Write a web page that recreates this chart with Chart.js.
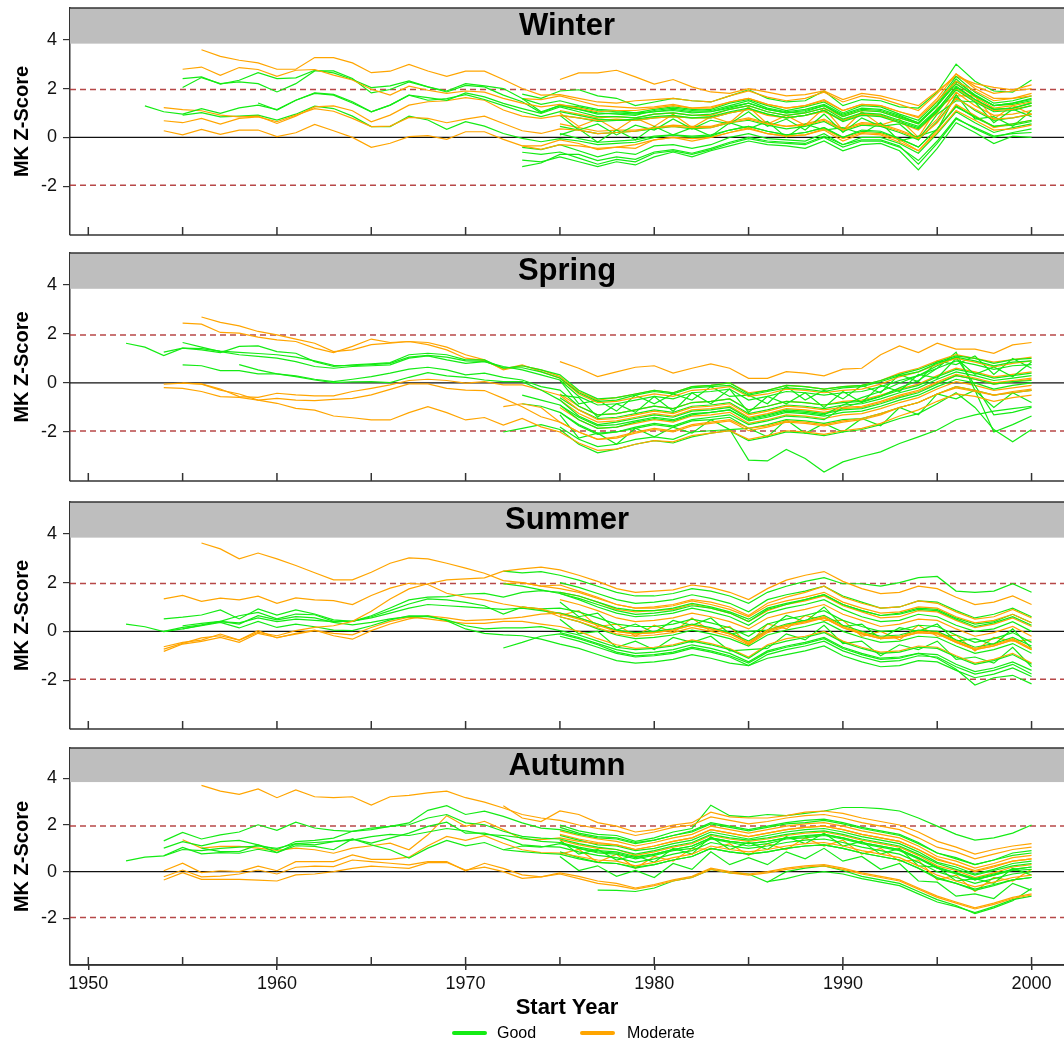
<!DOCTYPE html>
<html>
<head>
<meta charset="utf-8">
<script src="https://cdn.jsdelivr.net/npm/chart.js@4.4.1/dist/chart.umd.min.js"></script>
<style>
body{margin:0;background:#fff;width:1064px;height:1044px;overflow:hidden;position:relative;font-family:"Liberation Sans",Arial,sans-serif}
.panel{position:absolute;left:0}
#legend{position:absolute;left:0;top:1022px;width:1064px;height:22px;font-size:16px;color:#000}
#legend span{position:absolute}
.key{height:4px;width:35px;border-radius:2px;top:9px}
.lab{top:2px}
</style>
</head>
<body>
<div class="panel" id="p0"><canvas id="c0"></canvas></div>
<div class="panel" id="p1"><canvas id="c1"></canvas></div>
<div class="panel" id="p2"><canvas id="c2"></canvas></div>
<div class="panel" id="p3"><canvas id="c3"></canvas></div>
<div id="legend">
 <span class="key" style="left:452px;background:#14eb14"></span><span class="lab" style="left:497px">Good</span>
 <span class="key" style="left:580px;background:#ffa500"></span><span class="lab" style="left:627px">Moderate</span>
</div>
<script>
// axis setup
const xTicks = [1950, 1960, 1970, 1980, 1990, 2000];
const xMinor = [1955, 1965, 1975, 1985, 1995];
const yTicks = [-2, 0, 2, 4];
const seasons = ['Winter', 'Spring', 'Summer', 'Autumn'];
const sigLevel = 1.96;

// Winter: start year, class (G good / M moderate), MK Z values from start year to 2000
const winterStart = [1956,1955,1955,1955,1953,1959,1954,1954,1955,1954,
  1975,1973,1973,1973,1973,1973,1973,1973,1973,1975,1975,1975,1975,1975,1975,1975,1975,1975];
const winterClass = ['M','M','G','G','G','G','M','M','G','M',
  'M','G','G','G','G','G','G','M','M','G','G','M','G','M','G','G','M','G'];
const winterZ = [
 [3.59,3.32,3.16,3.05,2.79,2.79,3.27,3.27,3.05,2.65,2.71,2.99,2.72,2.50,2.71,2.71,2.37,2.0,1.73,
  1.75,1.6,1.45,1.4,1.5,1.55,1.6,1.5,1.45,1.7,1.9,1.65,1.5,1.6,1.85,1.45,1.7,1.6,1.35,1.1,1.8,2.6,2.1,1.8,1.9,2.0],
 [2.79,2.88,2.54,2.86,2.78,2.50,2.75,2.78,2.55,2.35,1.97,1.73,2.10,1.93,1.80,1.90,1.85,1.60,1.40,1.25,
  1.35,1.2,1.05,1.1,1.1,1.2,1.3,1.2,1.2,1.45,1.6,1.35,1.2,1.3,1.5,1.1,1.35,1.3,1.05,0.8,1.5,2.3,1.9,1.5,1.6,1.7],
 [2.41,2.48,2.18,2.34,2.65,2.41,2.44,2.75,2.64,2.37,2.04,2.11,2.31,2.07,1.90,2.20,2.11,2.0,1.59,1.05,1.3,
  1.15,1.0,0.95,0.9,1.1,1.2,1.1,1.15,1.4,1.55,1.3,1.1,1.25,1.45,1.0,1.3,1.25,0.95,0.7,1.45,2.5,1.85,1.4,1.5,1.7],
 [2.04,2.45,2.2,2.27,2.2,1.86,2.2,2.72,2.72,2.41,1.82,1.96,2.27,2.07,1.86,2.13,2.07,1.73,1.46,1.01,1.32,
  1.25,1.1,1.05,1.0,1.15,1.25,1.15,1.1,1.3,1.5,1.2,1.05,1.15,1.35,0.95,1.2,1.15,0.9,0.6,1.3,2.2,1.7,1.3,1.4,1.55],
 [1.29,1.05,0.95,1.18,0.98,1.21,1.32,1.14,1.52,1.82,1.76,1.46,1.05,1.32,1.73,1.63,1.52,1.82,1.66,1.39,1.18,0.98,1.25,
  1.05,0.85,0.85,0.8,0.95,1.0,0.9,0.95,1.15,1.3,1.05,0.9,1.0,1.2,0.75,1.0,0.95,0.7,0.45,1.15,2.05,1.55,1.15,1.2,1.4],
 [1.41,1.12,1.52,1.80,1.73,1.41,1.05,1.32,1.73,1.52,1.59,1.75,1.55,1.30,1.05,0.85,1.05,
  0.9,0.75,0.7,0.75,0.85,0.9,0.8,0.85,1.05,1.2,0.95,0.8,0.9,1.1,0.65,0.9,0.85,0.6,0.35,1.05,1.95,1.45,1.05,1.1,1.3],
 [1.22,1.14,1.09,0.91,0.84,0.87,0.57,0.87,1.25,1.29,1.09,0.64,0.91,1.32,1.46,1.50,1.63,1.52,1.12,0.87,0.78,0.9,
  0.8,0.7,0.75,0.7,0.8,0.85,0.8,0.8,1.0,1.15,0.9,0.8,0.9,1.05,0.7,0.95,0.9,0.6,0.3,1.0,2.0,1.5,1.1,1.15,1.3],
 [0.68,0.60,0.78,0.54,0.78,0.84,0.64,0.91,1.18,1.07,0.78,0.44,0.46,0.82,0.78,0.60,0.75,0.87,0.57,0.27,0.16,0.35,
  0.3,0.15,0.2,0.25,0.4,0.45,0.4,0.4,0.6,0.75,0.55,0.45,0.5,0.7,0.3,0.55,0.5,0.25,-0.05,0.6,1.6,1.15,0.75,0.8,0.95],
 [0.91,1.01,0.84,0.87,0.91,0.71,0.95,1.28,1.18,0.87,0.44,0.44,0.87,0.71,0.33,0.64,0.46,0.16,-0.04,-0.18,-0.05,
  -0.15,-0.3,-0.25,-0.2,0.0,0.1,0.0,0.05,0.3,0.45,0.25,0.1,0.2,0.4,0.0,0.3,0.25,-0.05,-0.4,0.35,1.25,0.85,0.45,0.55,0.7],
 [0.27,0.10,0.33,0.12,0.30,0.30,0.03,0.19,0.53,0.27,0.0,-0.41,-0.24,0.03,0.07,-0.08,0.23,0.23,-0.08,-0.35,-0.49,-0.3,
  -0.35,-0.45,-0.4,-0.3,-0.1,0.0,-0.05,0.0,0.2,0.35,0.15,0.05,0.1,0.3,-0.15,0.15,0.1,-0.2,-0.55,0.2,1.1,0.7,0.3,0.35,0.5],
 [2.37,2.64,2.64,2.75,2.48,2.18,2.37,2.07,1.86,1.8,2.0,1.85,1.7,1.75,1.9,1.55,1.8,1.7,1.5,1.3,1.9,2.5,2.2,2.05,1.95,2.15],
 [1.77,1.6,1.9,1.95,1.7,1.6,1.3,1.45,1.6,1.5,1.45,1.7,1.95,1.6,1.45,1.5,1.9,1.3,1.55,1.5,1.25,1.2,1.85,3.0,2.3,1.9,1.85,2.35],
 [1.59,1.35,1.5,1.3,1.15,1.1,1.0,1.05,1.15,1.05,1.05,1.2,1.4,1.15,1.0,1.05,1.3,0.85,1.1,1.05,0.8,0.55,1.3,2.3,1.75,1.3,1.4,1.6],
 [-0.41,-0.5,-0.3,-0.55,-0.8,-0.6,-0.7,-0.35,-0.3,-0.45,-0.3,0.0,0.15,-0.05,-0.1,-0.15,0.15,-0.3,0.0,0.0,-0.25,-0.65,0.15,1.05,0.6,0.2,0.4,0.55],
 [-0.61,-0.7,-0.6,-0.85,-1.1,-0.9,-1.0,-0.65,-0.55,-0.7,-0.5,-0.25,-0.05,-0.2,-0.25,-0.3,0.0,-0.4,-0.15,-0.15,-0.4,-0.95,-0.15,0.8,0.35,0.0,0.2,0.35],
 [-0.93,-1.0,-0.8,-1.0,-1.2,-1.0,-1.13,-0.8,-0.6,-0.8,-0.55,-0.35,-0.15,-0.3,-0.35,-0.45,-0.15,-0.55,-0.3,-0.25,-0.55,-1.33,-0.45,0.6,0.2,-0.25,0.05,0.0],
 [-1.2,-1.05,-0.7,-0.7,-0.95,-0.8,-0.9,-0.6,-0.5,-0.65,-0.45,-0.2,0.0,-0.15,-0.2,-0.25,0.05,-0.3,-0.1,-0.1,-0.35,-1.1,-0.25,0.75,0.4,0.05,0.15,0.2],
 [-0.35,-0.35,-0.1,-0.25,-0.5,-0.4,-0.45,-0.1,0.0,-0.15,0.0,0.2,0.4,0.15,0.05,0.1,0.35,-0.05,0.2,0.15,-0.1,-0.55,0.3,1.35,0.9,0.4,0.55,0.7],
 [1.59,1.55,1.7,1.5,1.3,1.25,1.2,1.25,1.35,1.2,1.25,1.45,1.6,1.35,1.2,1.3,1.55,1.1,1.35,1.3,1.05,0.85,1.6,2.6,2.0,1.6,1.6,1.8],
 [0.9,0.3,0.55,0.1,0.5,0.3,0.75,0.35,0.7,0.55,1.05,0.45,0.75,0.3,0.95,0.2,0.8,0.45,0.55,-0.1,0.95,1.5,1.45,0.6,1.15,0.85],
 [0.9,0.8,0.65,0.7,0.7,0.8,0.85,0.8,0.8,1.0,1.15,0.95,0.8,0.9,1.1,0.7,0.95,0.9,0.65,0.4,1.1,2.1,1.55,1.15,1.2,1.4],
 [1.1,0.95,0.8,0.85,0.8,0.95,1.0,0.9,0.9,1.15,1.3,1.05,0.9,1.0,1.2,0.85,1.1,1.05,0.8,0.55,1.3,2.2,1.65,1.2,1.3,1.45],
 [0.1,0.35,-0.2,0.3,-0.1,0.45,0.1,0.4,0.05,0.6,0.35,0.65,0.0,0.55,0.3,0.4,0.15,0.6,-0.15,0.05,0.3,1.75,0.75,0.85,0.45,1.1],
 [0.55,0.4,0.25,0.3,0.3,0.4,0.5,0.45,0.45,0.65,0.8,0.6,0.45,0.55,0.75,0.35,0.6,0.55,0.3,0.0,0.75,1.85,1.3,0.9,0.95,1.1],
 [1.3,1.15,0.95,1.0,0.95,1.05,1.1,1.0,1.05,1.25,1.4,1.15,1.0,1.1,1.3,0.9,1.15,1.1,0.85,0.6,1.35,2.4,1.7,1.3,1.35,1.5],
 [0.15,-0.05,-0.2,-0.15,-0.1,0.05,0.1,0.05,0.1,0.3,0.45,0.25,0.1,0.2,0.4,0.0,0.25,0.2,-0.05,-0.4,0.35,1.3,0.8,0.45,0.5,0.65],
 [1.0,0.45,0.75,0.3,0.8,0.45,0.95,0.4,0.85,0.6,1.25,0.55,0.9,0.5,1.2,0.3,1.05,0.5,0.75,0.0,1.2,1.7,1.7,0.75,1.3,0.95],
 [0.45,0.3,0.15,0.2,0.25,0.35,0.45,0.35,0.4,0.6,0.7,0.5,0.35,0.45,0.65,0.25,0.5,0.45,0.2,-0.1,0.65,1.65,1.1,0.7,0.8,0.95]
];

// Spring
const springStart = [1952,1954,1955,1955,1958,1956,1955,1954,1954,1955,
  1975,1975,1972,1972,1973,1973,1975,1975,1975,1975,1975,1975,1975,1975,1975];
const springClass = ['G','G','G','G','G','M','M','M','M','M',
  'M','G','M','G','G','G','G','M','G','M','G','G','M','G','G'];
const springZ = [
 [1.62,1.46,1.12,1.42,1.40,1.30,1.25,1.20,1.15,1.05,0.90,0.72,0.70,0.75,0.80,1.05,1.12,1.05,0.90,0.88,0.62,0.62,0.45,0.2,
  -0.4,-0.75,-0.7,-0.5,-0.35,-0.45,-0.2,-0.15,-0.1,-0.5,-0.35,-0.2,-0.25,-0.35,-0.2,-0.15,0.05,0.3,0.45,0.8,1.05,0.9,0.7,0.85,0.9],
 [1.26,1.42,1.35,1.24,1.49,1.51,1.28,1.21,0.87,0.67,0.74,0.78,0.83,1.15,1.21,1.15,0.94,0.94,0.60,0.70,0.53,0.33,
  -0.3,-0.65,-0.6,-0.45,-0.3,-0.4,-0.15,-0.1,0.0,-0.45,-0.3,-0.1,-0.15,-0.25,-0.15,-0.1,0.1,0.35,0.55,0.85,1.1,1.0,0.8,0.95,1.0],
 [1.65,1.46,1.28,1.15,1.08,1.01,0.87,0.67,0.60,0.67,0.70,0.74,1.01,1.10,0.94,0.80,0.87,0.67,0.53,0.33,0.12,
  -0.55,-0.9,-0.85,-0.7,-0.55,-0.65,-0.4,-0.35,-0.25,-0.7,-0.55,-0.35,-0.4,-0.5,-0.4,-0.35,-0.15,0.1,0.3,0.6,0.9,0.75,0.55,0.7,0.75],
 [0.74,0.70,0.50,0.50,0.37,0.37,0.29,0.15,0.05,0.15,0.26,0.40,0.56,0.64,0.53,0.33,0.40,0.23,0.12,-0.15,-0.29,
  -0.95,-1.3,-1.25,-1.1,-0.95,-1.05,-0.8,-0.75,-0.65,-1.1,-0.95,-0.75,-0.8,-0.9,-0.8,-0.75,-0.55,-0.3,-0.1,0.25,0.55,0.4,0.2,0.3,0.4],
 [0.75,0.53,0.37,0.26,0.12,0.01,0.04,0.05,0.01,0.23,0.42,0.29,0.23,0.12,0.05,0.05,-0.29,-0.70,
  -1.35,-1.7,-1.6,-1.45,-1.3,-1.4,-1.15,-1.1,-1.0,-1.45,-1.3,-1.1,-1.15,-1.25,-1.1,-1.05,-0.85,-0.6,-0.4,-0.05,0.3,0.15,-0.05,0.05,0.1],
 [2.69,2.47,2.33,2.10,1.96,1.79,1.62,1.28,1.35,1.56,1.62,1.69,1.65,1.46,1.15,0.94,0.53,0.70,0.53,0.26,
  -0.35,-0.7,-0.6,-0.45,-0.3,-0.4,-0.15,-0.1,0.0,-0.4,-0.3,-0.1,-0.15,-0.25,-0.15,-0.1,0.1,0.4,0.6,0.9,1.15,1.0,0.85,0.95,1.05],
 [2.44,2.40,2.06,2.03,1.87,1.76,1.69,1.42,1.24,1.49,1.79,1.65,1.69,1.56,1.35,1.01,0.91,0.56,0.74,0.46,0.19,
  -0.45,-0.8,-0.75,-0.6,-0.45,-0.55,-0.3,-0.25,-0.15,-0.55,-0.45,-0.25,-0.3,-0.4,-0.3,-0.25,-0.05,0.25,0.45,0.75,1.0,0.85,0.65,0.8,0.9],
 [-0.05,-0.01,-0.04,-0.25,-0.56,-0.59,-0.42,-0.49,-0.53,-0.53,-0.35,-0.22,-0.08,0.10,0.15,0.10,-0.01,0.05,-0.08,-0.08,-0.29,-0.5,
  -1.1,-1.5,-1.45,-1.3,-1.15,-1.25,-1.0,-0.95,-0.85,-1.3,-1.15,-0.95,-1.0,-1.1,-1.0,-0.95,-0.75,-0.5,-0.3,0.05,0.35,0.2,0.0,0.1,0.2],
 [-0.19,-0.22,-0.35,-0.56,-0.59,-0.70,-0.63,-0.70,-0.72,-0.67,-0.63,-0.49,-0.26,-0.04,-0.04,-0.22,-0.29,-0.31,-0.63,-0.97,-1.38,-1.6,
  -2.0,-2.3,-2.25,-2.05,-1.9,-2.0,-1.75,-1.65,-1.55,-1.95,-1.8,-1.6,-1.65,-1.75,-1.6,-1.5,-1.3,-1.0,-0.8,-0.45,-0.15,-0.3,-0.5,-0.4,-0.3],
 [-0.01,-0.05,-0.29,-0.45,-0.70,-0.83,-1.04,-1.11,-1.35,-1.42,-1.51,-1.51,-1.21,-0.97,-1.21,-1.51,-1.41,-1.72,-1.45,-1.79,-2.0,
  -2.45,-2.75,-2.7,-2.5,-2.35,-2.4,-2.15,-2.05,-1.95,-2.3,-2.15,-1.95,-2.0,-2.1,-1.95,-1.85,-1.65,-1.35,-1.1,-0.75,-0.45,-0.55,-0.75,-0.6,-0.5],
 [0.87,0.6,0.26,0.45,0.64,0.70,0.4,0.6,0.78,0.60,0.19,0.19,0.46,0.40,0.29,0.56,0.60,1.15,1.51,1.24,1.62,1.38,1.38,1.21,1.55,1.65],
 [-1.8,-2.3,-2.6,-2.5,-2.3,-2.2,-2.3,-2.0,-1.95,-1.9,-3.15,-3.18,-2.71,-3.08,-3.63,-3.22,-3.0,-2.81,-2.47,-2.2,-1.92,-1.5,-1.3,-1.15,-1.05,-0.95],
 [-0.97,-0.85,-1.0,-1.6,-2.0,-2.3,-2.2,-2.0,-1.85,-1.95,-1.7,-1.6,-1.5,-1.85,-1.75,-1.55,-1.6,-1.7,-1.55,-1.45,-1.25,-1.0,-0.8,-0.45,-0.2,-0.35,-0.5,-0.35,-0.25],
 [-2.0,-1.85,-1.7,-1.9,-2.5,-2.85,-2.7,-2.5,-2.35,-2.45,-2.2,-2.05,-1.95,-2.35,-2.2,-2.0,-2.05,-2.15,-2.0,-1.9,-1.7,-1.45,-1.25,-0.85,-0.4,-1.0,-1.9,-2.4,-1.9],
 [-0.85,-0.95,-1.2,-1.75,-2.1,-2.0,-1.8,-1.65,-1.75,-1.5,-1.4,-1.3,-1.7,-1.55,-1.35,-1.4,-1.5,-1.0,-0.8,-0.55,-0.2,0.1,0.6,1.25,-0.3,-2.0,-1.7,-1.35],
 [-0.5,-0.7,-0.9,-1.5,-1.85,-1.8,-1.6,-1.45,-1.55,-1.3,-1.2,-1.1,-1.5,-1.35,-1.15,-1.2,-1.3,-0.9,-0.6,-0.35,0.0,0.3,0.7,1.05,-0.1,-1.3,-1.2,-1.0],
 [-0.9,-1.4,-1.75,-1.7,-1.55,-1.4,-1.5,-1.25,-1.2,-1.1,-1.55,-1.4,-1.2,-1.25,-1.35,-1.2,-1.15,-0.95,-0.7,-0.5,-0.15,0.15,0.0,-0.25,-0.1,0.0],
 [-0.7,-1.25,-1.6,-1.55,-1.4,-1.25,-1.35,-1.1,-1.05,-0.95,-1.4,-1.25,-1.05,-1.1,-1.2,-1.05,-1.0,-0.8,-0.55,-0.35,0.0,0.3,0.15,-0.05,0.05,0.15],
 [-0.5,-0.6,-1.4,-0.85,-1.2,-0.55,-1.15,-0.4,-0.85,-0.25,-1.2,-0.55,-0.85,-0.4,-1.0,-0.35,-0.8,-0.1,-0.35,0.35,0.2,1.0,0.35,0.65,0.25,0.85],
 [-0.45,-0.95,-1.3,-1.25,-1.1,-0.95,-1.05,-0.8,-0.75,-0.65,-1.1,-0.95,-0.75,-0.8,-0.9,-0.75,-0.7,-0.5,-0.25,-0.05,0.3,0.6,0.45,0.25,0.35,0.45],
 [-1.2,-1.7,-2.05,-2.0,-1.85,-1.7,-1.8,-1.55,-1.5,-1.4,-1.85,-1.7,-1.5,-1.55,-1.65,-1.5,-1.45,-1.25,-1.0,-0.8,-0.45,-0.15,-0.3,-0.5,-0.4,-0.3],
 [0.1,-0.85,-0.7,-1.15,-0.5,-0.85,-0.45,-0.7,-0.15,-0.55,-0.5,-0.85,-0.15,-0.7,-0.3,-0.65,-0.1,-0.4,0.35,0.05,0.9,0.75,1.1,0.35,1.0,0.6],
 [-1.0,-1.5,-1.85,-1.8,-1.65,-1.5,-1.6,-1.35,-1.3,-1.2,-1.65,-1.5,-1.3,-1.35,-1.45,-1.3,-1.25,-1.05,-0.8,-0.6,-0.25,0.05,-0.1,-0.3,-0.2,-0.1],
 [-1.3,-2.25,-2.05,-2.5,-1.85,-2.2,-1.8,-2.05,-1.5,-1.9,-1.85,-2.2,-1.5,-2.05,-1.65,-2.0,-1.45,-1.75,-1.0,-1.3,-0.45,-0.65,-0.3,-1.0,-0.4,-0.8],
 [-0.6,-1.1,-1.45,-1.4,-1.25,-1.1,-1.2,-0.95,-0.9,-0.8,-1.25,-1.1,-0.9,-0.95,-1.05,-0.9,-0.85,-0.65,-0.4,-0.2,0.15,0.45,0.3,0.1,0.2,0.3]
];

// Summer
const summerStart = [1956,1954,1954,1952,1954,1954,1955,1955,1954,1954,
  1972,1972,1972,1972,1973,1975,1975,1975,1975,1975,1975,1975,1975,1975,1975];
const summerClass = ['M','M','M','G','G','G','G','G','M','M',
  'G','G','G','M','M','G','G','M','G','M','G','G','M','G','G'];
const summerZ = [
 [3.62,3.38,2.97,3.21,2.97,2.70,2.40,2.11,2.11,2.42,2.79,3.01,2.97,2.79,2.59,2.38,2.08,2.0,1.85,
  1.75,1.6,1.35,1.1,0.95,0.95,1.05,1.25,1.1,0.9,0.6,1.05,1.25,1.4,1.6,1.2,0.95,0.75,0.8,1.0,0.95,0.6,0.35,0.45,0.7,0.35],
 [-0.73,-0.49,-0.27,-0.18,-0.36,-0.04,-0.18,0.03,0.16,0.23,0.41,0.82,1.33,1.74,1.95,2.11,2.15,2.19,2.47,2.56,2.63,2.52,
  2.3,2.05,1.75,1.6,1.65,1.7,1.9,1.8,1.6,1.3,1.75,2.1,2.3,2.45,2.05,1.75,1.55,1.6,1.85,1.75,1.4,1.1,1.2,1.45,1.1],
 [1.33,1.47,1.23,1.36,1.29,1.44,1.15,1.37,1.29,1.26,1.10,1.47,1.77,1.97,1.92,1.56,1.40,1.29,1.12,0.99,0.92,0.71,
  0.5,0.25,0.0,-0.1,-0.05,0.05,0.25,0.1,-0.1,-0.45,0.05,0.25,0.4,0.6,0.2,-0.05,-0.25,-0.2,0.0,-0.05,-0.4,-0.7,-0.55,-0.3,-0.7],
 [0.30,0.19,-0.01,0.10,0.25,0.40,0.35,0.55,0.40,0.50,0.45,0.40,0.42,0.55,0.75,0.95,1.10,1.05,1.00,0.95,0.90,0.95,0.85,0.75,
  0.55,0.3,0.05,-0.05,0.0,0.1,0.3,0.15,-0.05,-0.4,0.05,0.3,0.45,0.65,0.25,0.0,-0.2,-0.15,0.05,0.0,-0.35,-0.65,-0.5,-0.25,-0.6],
 [0.51,0.58,0.67,0.88,0.51,0.92,0.67,0.88,0.71,0.47,0.41,0.64,0.96,1.29,1.40,1.42,1.53,1.56,1.40,1.60,1.67,1.6,
  1.45,1.2,0.95,0.85,0.85,0.95,1.15,1.0,0.8,0.5,0.95,1.15,1.3,1.5,1.1,0.85,0.65,0.7,0.9,0.85,0.5,0.2,0.35,0.6,0.25],
 [0.0,0.16,0.27,0.41,0.64,0.78,0.51,0.71,0.68,0.41,0.41,0.60,0.85,1.12,1.33,1.29,1.19,1.05,0.71,0.99,0.92,0.95,
  0.8,0.55,0.3,0.2,0.2,0.3,0.5,0.35,0.15,-0.2,0.3,0.5,0.65,0.85,0.45,0.2,0.0,0.05,0.25,0.2,-0.15,-0.45,-0.3,-0.05,-0.45],
 [0.23,0.33,0.41,0.30,0.64,0.47,0.60,0.55,0.37,0.27,0.37,0.51,0.60,0.60,0.47,0.23,0.10,0.14,0.14,0.19,0.03,
  -0.15,-0.4,-0.65,-0.75,-0.7,-0.6,-0.4,-0.55,-0.75,-1.1,-0.6,-0.4,-0.25,-0.05,-0.45,-0.7,-0.9,-0.85,-0.65,-0.7,-1.05,-1.35,-1.2,-0.95,-1.35],
 [0.10,0.23,0.37,0.14,0.41,0.16,0.30,0.19,0.05,0.03,0.23,0.47,0.64,0.64,0.44,0.10,-0.08,-0.14,-0.18,-0.32,-0.52,
  -0.7,-0.95,-1.2,-1.3,-1.25,-1.15,-0.95,-1.1,-1.3,-1.4,-1.1,-0.95,-0.8,-0.6,-1.0,-1.25,-1.45,-1.4,-1.2,-1.25,-1.6,-1.9,-1.75,-1.5,-1.85],
 [-0.63,-0.45,-0.36,-0.11,-0.36,0.03,-0.27,-0.08,0.05,-0.18,-0.32,0.03,0.30,0.51,0.64,0.55,0.44,0.47,0.51,0.58,0.71,0.75,
  0.55,0.3,0.0,-0.1,-0.05,0.05,0.25,0.1,-0.1,-0.5,0.0,0.25,0.4,0.55,0.15,-0.1,-0.3,-0.25,-0.05,-0.1,-0.45,-0.75,-0.6,-0.35,-0.75],
 [-0.82,-0.52,-0.41,-0.25,-0.45,-0.08,-0.25,-0.11,0.03,-0.08,-0.14,0.16,0.41,0.58,0.51,0.41,0.33,0.33,0.41,0.41,0.30,0.2,
  0.0,-0.3,-0.55,-0.7,-0.65,-0.55,-0.35,-0.5,-0.7,-1.05,-0.55,-0.3,-0.2,0.0,-0.4,-0.65,-0.85,-0.8,-0.6,-0.65,-1.0,-1.3,-1.15,-0.9,-1.3],
 [2.47,2.4,2.45,2.3,2.1,1.85,1.6,1.45,1.45,1.55,1.75,1.65,1.45,1.15,1.6,1.85,2.05,2.2,1.95,1.95,1.85,2.0,2.2,2.25,1.65,1.6,1.65,1.95,1.6],
 [1.95,1.85,1.7,1.55,1.35,1.1,0.85,0.7,0.75,0.85,1.05,0.95,0.75,0.4,0.9,1.1,1.3,1.5,1.1,0.85,0.65,0.75,0.95,0.9,0.55,0.3,0.4,0.7,0.35],
 [-0.68,-0.45,-0.2,-0.1,-0.3,-0.55,-0.85,-1.0,-0.95,-0.85,-0.65,-0.8,-1.0,-1.3,-0.85,-0.65,-0.5,-0.3,-0.7,-0.95,-1.15,-1.1,-0.9,-0.95,-1.35,-1.65,-1.5,-1.25,-1.6],
 [1.95,2.0,1.85,1.9,1.65,1.4,1.1,0.95,1.0,1.1,1.3,1.2,1.0,0.65,1.15,1.4,1.6,1.85,1.4,1.15,0.95,1.0,1.25,1.15,0.8,0.5,0.6,0.9,0.55],
 [1.0,0.9,0.6,0.4,0.15,-0.1,-0.2,-0.15,-0.05,0.15,0.0,-0.2,-0.55,-0.05,0.2,0.35,0.55,0.15,-0.1,-0.3,-0.25,-0.05,-0.1,-0.45,-0.75,-0.6,-0.35,-0.75],
 [1.55,1.3,1.0,0.75,0.6,0.65,0.75,0.95,0.8,0.6,0.25,0.75,0.95,1.1,1.3,0.9,0.6,0.4,0.45,0.7,0.6,0.25,0.0,0.1,0.4,0.0],
 [1.2,0.6,0.75,0.05,0.3,-0.05,0.45,0.25,0.55,-0.1,0.0,0.05,0.65,0.4,1.0,0.2,0.3,-0.3,0.15,0.0,0.3,-0.4,-0.3,-0.55,0.1,-0.7],
 [1.3,1.1,0.85,0.55,0.4,0.45,0.55,0.75,0.6,0.4,0.1,0.55,0.75,0.9,1.1,0.7,0.45,0.2,0.3,0.5,0.45,0.1,-0.2,-0.05,0.2,-0.2],
 [0.6,0.4,0.1,-0.15,-0.3,-0.25,-0.15,0.05,-0.1,-0.3,-0.6,-0.15,0.05,0.2,0.4,0.0,-0.25,-0.45,-0.4,-0.2,-0.25,-0.6,-0.9,-0.75,-0.5,-0.9],
 [0.65,0.85,0.2,0.3,-0.2,0.25,-0.05,0.55,0.0,0.2,-0.55,0.3,0.1,0.65,0.45,0.45,-0.2,0.0,-0.35,0.25,-0.2,-0.15,-0.8,-0.25,-0.4,-0.35],
 [2.0,1.8,1.55,1.3,1.15,1.2,1.3,1.5,1.35,1.15,0.8,1.3,1.5,1.65,1.85,1.45,1.2,0.95,1.0,1.25,1.2,0.85,0.55,0.7,0.95,0.6],
 [0.5,-0.1,0.0,-0.65,-0.4,-0.75,-0.25,-0.45,-0.2,-0.8,-0.75,-0.7,-0.1,-0.35,0.25,-0.5,-0.4,-1.0,-0.55,-0.75,-0.4,-1.15,-1.05,-1.3,-0.65,-1.45],
 [1.6,1.45,1.2,0.9,0.8,0.85,0.9,1.1,0.95,0.75,0.4,0.85,1.1,1.25,1.45,1.05,0.8,0.55,0.6,0.85,0.8,0.45,0.15,0.3,0.55,0.2],
 [-0.2,-0.4,-0.65,-0.9,-1.05,-1.0,-0.9,-0.7,-0.85,-1.05,-1.4,-0.95,-0.75,-0.6,-0.4,-0.8,-1.05,-1.25,-1.2,-1.0,-1.05,-1.45,-1.75,-1.6,-1.35,-1.75],
 [-0.05,-0.25,-0.5,-0.75,-0.9,-0.85,-0.75,-0.55,-0.7,-0.9,-1.25,-0.8,-0.6,-0.45,-0.25,-0.65,-0.9,-1.1,-1.05,-0.9,-1.1,-1.55,-2.2,-1.9,-1.8,-2.15]
];

// Autumn
const autumnStart = [1956,1954,1954,1954,1952,1956,1955,1954,1954,1954,
  1972,1972,1975,1975,1975,1975,1975,1975,1975,1975,1975,1975,1977,1986,1975];
const autumnClass = ['M','G','G','G','G','G','M','M','M','M',
  'M','G','G','G','M','G','M','G','G','M','G','M','G','G','G'];
const autumnZ = [
 [3.70,3.45,3.31,3.55,3.17,3.50,3.21,3.17,3.21,2.85,3.21,3.27,3.38,3.45,3.17,2.98,2.73,2.45,2.30,
  2.2,2.0,1.85,1.75,1.55,1.7,1.9,2.0,2.35,2.2,2.05,2.15,2.3,2.4,2.45,2.3,2.1,1.95,1.8,1.45,1.05,0.85,0.55,0.75,0.95,1.05],
 [1.32,1.68,1.40,1.58,1.70,2.01,1.77,2.12,1.87,1.77,1.73,1.80,1.94,2.09,2.63,2.83,2.45,2.59,2.37,2.09,1.87,1.8,
  1.6,1.45,1.4,1.2,1.35,1.55,1.7,2.05,1.9,1.75,1.9,2.05,2.1,2.2,2.05,1.85,1.7,1.55,1.2,0.8,0.55,0.3,0.5,0.7,0.8],
 [1.01,1.29,1.11,1.29,1.34,1.15,0.94,1.29,1.34,1.44,1.73,1.87,1.94,2.01,2.30,2.45,2.09,2.01,1.73,1.51,1.44,1.4,
  1.2,1.05,0.95,0.75,0.9,1.1,1.25,1.6,1.45,1.35,1.45,1.6,1.7,1.75,1.6,1.4,1.25,1.1,0.75,0.35,0.1,-0.15,0.05,0.25,0.35],
 [0.68,1.04,0.76,0.82,0.79,0.96,0.82,1.19,1.15,1.29,1.40,1.22,1.44,1.65,1.94,2.12,1.65,1.65,1.44,1.15,1.08,1.05,
  0.85,0.7,0.6,0.4,0.55,0.75,0.9,1.25,1.1,1.0,1.1,1.25,1.35,1.4,1.25,1.05,0.9,0.75,0.4,0.0,-0.25,-0.5,-0.3,-0.1,0.0],
 [0.46,0.62,0.68,0.95,0.90,1.00,1.05,1.10,1.00,1.20,1.25,1.30,1.35,1.50,1.60,1.55,1.70,1.85,1.75,1.60,1.55,1.45,1.30,1.25,
  1.0,0.85,0.8,0.6,0.75,0.95,1.1,1.45,1.3,1.2,1.3,1.45,1.5,1.6,1.45,1.25,1.1,0.95,0.6,0.2,-0.05,-0.3,-0.1,0.1,0.2],
 [1.01,0.86,0.86,1.15,0.82,1.11,1.08,0.94,1.40,1.15,0.94,0.58,1.01,1.34,1.11,1.25,0.94,0.86,0.79,0.75,
  0.55,0.4,0.35,0.15,0.3,0.5,0.65,1.0,0.85,0.75,0.85,1.0,1.1,1.15,1.0,0.8,0.65,0.5,0.15,-0.25,-0.5,-0.75,-0.55,-0.35,-0.25],
 [1.37,1.01,1.08,1.08,1.01,0.91,1.01,0.94,0.79,1.01,1.11,1.22,0.94,1.58,2.40,1.94,2.16,1.80,1.40,1.37,1.45,
  1.3,1.2,1.15,0.95,1.1,1.3,1.45,1.8,1.65,1.5,1.65,1.8,1.9,1.95,1.8,1.6,1.45,1.3,0.95,0.55,0.3,0.05,0.25,0.45,0.55],
 [0.04,0.36,-0.04,0.04,0.0,0.24,0.04,0.43,0.43,0.43,0.72,0.53,0.53,0.62,1.11,1.51,1.34,1.54,1.22,0.94,0.82,0.8,
  0.65,0.5,0.45,0.25,0.4,0.6,0.75,1.1,0.95,0.85,0.95,1.1,1.2,1.25,1.1,0.9,0.75,0.6,0.25,-0.15,-0.4,-0.65,-0.45,-0.25,-0.15],
 [-0.22,0.07,-0.22,-0.19,-0.1,0.07,-0.1,0.19,0.24,0.22,0.50,0.43,0.36,0.29,0.43,0.43,0.04,0.36,0.14,-0.14,-0.22,-0.1,
  -0.3,-0.5,-0.6,-0.75,-0.6,-0.4,-0.25,0.1,-0.05,-0.15,-0.05,0.1,0.2,0.25,0.1,-0.1,-0.25,-0.4,-0.75,-1.1,-1.35,-1.6,-1.4,-1.15,-1.0],
 [-0.36,-0.04,-0.33,-0.33,-0.33,-0.36,-0.40,-0.14,-0.10,0.0,0.14,0.24,0.19,0.14,0.39,0.39,0.07,0.19,0.0,-0.29,-0.22,-0.05,
  -0.2,-0.4,-0.5,-0.7,-0.55,-0.35,-0.2,0.15,0.0,-0.1,0.0,0.15,0.25,0.3,0.15,-0.05,-0.2,-0.35,-0.7,-1.05,-1.3,-1.55,-1.35,-1.1,-0.95],
 [2.83,2.3,2.15,2.6,2.45,2.1,1.95,1.7,1.8,2.0,2.1,2.55,2.35,2.3,2.3,2.4,2.55,2.6,2.5,2.3,2.15,2.0,1.7,1.3,1.05,0.75,0.95,1.1,1.2],
 [0.94,1.1,1.05,1.2,1.0,0.8,0.75,0.55,0.7,0.9,1.0,1.4,1.25,1.1,1.2,1.4,1.45,1.55,1.4,1.2,1.05,0.9,0.55,0.15,-0.1,-0.35,-0.15,0.05,0.1],
 [2.0,1.75,1.6,1.55,1.3,1.45,1.7,1.85,2.85,2.4,2.35,2.45,2.4,2.5,2.6,2.75,2.75,2.7,2.6,2.3,1.95,1.6,1.35,1.45,1.65,2.0],
 [1.55,1.35,1.15,1.1,0.9,1.0,1.2,1.35,1.7,1.55,1.4,1.55,1.7,1.8,1.85,1.7,1.5,1.35,1.2,0.85,0.4,0.2,-0.1,0.1,0.35,0.45],
 [1.35,1.15,1.0,0.95,0.7,0.85,1.05,1.2,1.55,1.4,1.3,1.4,1.55,1.65,1.7,1.55,1.35,1.2,1.05,0.7,0.25,0.05,-0.25,-0.05,0.2,0.3],
 [1.35,0.75,0.95,0.5,0.7,0.4,1.0,0.75,1.5,0.95,1.25,0.95,1.5,1.2,1.65,1.1,1.3,0.75,1.0,0.25,0.2,-0.4,-0.3,-0.5,0.15,-0.15],
 [1.75,1.55,1.4,1.3,1.1,1.25,1.45,1.6,1.95,1.8,1.65,1.8,1.95,2.05,2.1,1.95,1.75,1.6,1.45,1.1,0.65,0.45,0.15,0.35,0.6,0.7],
 [0.85,0.6,0.4,0.35,0.2,0.3,0.5,0.65,1.0,0.85,0.75,0.85,1.0,1.1,1.15,1.0,0.8,0.65,0.5,0.15,-0.3,-0.5,-0.8,-0.6,-0.35,-0.25],
 [1.9,1.65,1.5,1.45,1.25,1.35,1.55,1.75,2.1,1.95,1.8,1.95,2.1,2.2,2.25,2.1,1.9,1.75,1.6,1.25,0.8,0.6,0.3,0.5,0.8,0.9],
 [0.75,0.95,0.4,0.75,0.15,0.65,0.45,1.0,0.95,1.2,0.7,1.2,0.95,1.45,1.1,1.35,0.75,1.0,0.45,0.5,-0.35,-0.15,-0.85,-0.25,-0.4,0.1],
 [0.65,0.05,0.25,-0.2,0.05,-0.25,0.35,0.1,0.85,0.3,0.6,0.3,0.85,0.55,1.0,0.45,0.65,0.1,0.35,-0.4,-0.45,-1.05,-0.95,-1.15,-0.5,-0.8],
 [1.6,1.4,1.25,1.15,0.95,1.1,1.3,1.45,1.8,1.65,1.5,1.65,1.8,1.9,1.95,1.8,1.6,1.45,1.3,0.95,0.5,0.3,0.0,0.2,0.45,0.55],
 [-0.79,-0.8,-0.85,-0.7,-0.4,-0.25,0.1,-0.05,-0.1,-0.45,0.0,0.15,0.25,0.05,-0.2,-0.35,-0.5,-0.85,-1.2,-1.45,-1.8,-1.55,-1.25,-0.72],
 [-0.43,-0.3,-0.1,0.0,-0.1,-0.3,-0.45,-0.6,-0.95,-1.3,-1.5,-1.75,-1.5,-1.2,-1.05],
 [1.25,1.05,0.9,0.85,0.65,0.75,0.95,1.1,1.45,1.3,1.2,1.3,1.45,1.55,1.6,1.45,1.25,1.1,0.95,0.6,0.15,-0.05,-0.35,-0.15,0.1,0.2]
];

const seasonStart = [winterStart, springStart, summerStart, autumnStart];
const seasonClass = [winterClass, springClass, summerClass, autumnClass];
const seasonZ = [winterZ, springZ, summerZ, autumnZ];

const classColor = {G: '#14eb14', M: '#ffa500'};
const FONT = '"Liberation Sans", Arial, sans-serif';

// panel geometry in page pixels
const panelTop = [8, 253, 502, 748];
const panelBottom = [235, 481, 729, 965];
const xMin = 1949.03, xMax = 2001.72;
const yMin = -4, yMax = 5.3, stripFrom = 3.84;

const panelPlugin = {
  id: 'panel',
  beforeDatasetsDraw(chart, args, opts) {
    const {ctx, chartArea: a, scales: {x, y}} = chart;
    const line = (x1, y1, x2, y2) => { ctx.beginPath(); ctx.moveTo(x1, y1); ctx.lineTo(x2, y2); ctx.stroke(); };
    ctx.save();
    const hb = y.getPixelForValue(stripFrom);
    ctx.fillStyle = '#bebebe';
    ctx.fillRect(a.left, a.top, a.right - a.left, hb - a.top);
    ctx.fillStyle = '#000';
    ctx.font = 'bold 31px ' + FONT;
    ctx.textAlign = 'center';
    ctx.textBaseline = 'middle';
    ctx.fillText(opts.title, (a.left + a.right) / 2, (a.top + hb) / 2 + 1);
    // significance lines
    ctx.strokeStyle = 'rgba(170,40,40,0.85)';
    ctx.lineWidth = 1.5;
    ctx.setLineDash([6, 4]);
    for (const v of [sigLevel, -sigLevel]) {
      const py = y.getPixelForValue(v);
      line(a.left, py, a.right, py);
    }
    ctx.setLineDash([]);
    ctx.strokeStyle = '#111';
    ctx.lineWidth = 1.2;
    const p0 = y.getPixelForValue(0);
    line(a.left, p0, a.right, p0);
    // frame and inward ticks
    ctx.strokeStyle = '#333';
    ctx.lineWidth = 1.5;
    line(a.left, a.top, a.right, a.top);
    line(a.left, a.bottom, a.right, a.bottom);
    for (const v of xTicks.concat(xMinor)) {
      const px = x.getPixelForValue(v);
      line(px, a.bottom, px, a.bottom - 8);
    }
    ctx.restore();
  }
};

function buildSets(starts, cls, z) {
  return z.map((vals, i) => ({
    data: vals.map((v, j) => ({x: starts[i] + j, y: v})),
    borderColor: classColor[cls[i]],
    borderWidth: 1.2,
    pointRadius: 0,
    fill: false,
    tension: 0
  }));
}

seasons.forEach((name, k) => {
  const last = k === seasons.length - 1;
  const axisH = last ? 58 : 0;
  const h = panelBottom[k] - panelTop[k] + 4 + axisH;
  const wrap = document.getElementById('p' + k);
  wrap.style.top = (panelTop[k] - 2) + 'px';
  const cv = document.getElementById('c' + k);
  cv.width = 1064; cv.height = h;
  cv.style.width = '1064px'; cv.style.height = h + 'px';

  new Chart(cv, {
    type: 'line',
    data: {datasets: buildSets(seasonStart[k], seasonClass[k], seasonZ[k])},
    options: {
      responsive: false,
      animation: false,
      devicePixelRatio: 1,
      layout: {padding: {top: 2, bottom: 2, left: 0, right: 0}},
      plugins: {
        legend: {display: false},
        tooltip: {enabled: false},
        panel: {title: name}
      },
      scales: {
        x: {
          type: 'linear',
          min: xMin, max: xMax,
          display: last,
          afterBuildTicks: s => { s.ticks = xTicks.map(v => ({value: v})); },
          afterFit: s => { s.height = axisH; s.paddingLeft = 0; s.paddingRight = 0; },
          grid: {drawOnChartArea: false, drawTicks: true, tickLength: 5, color: '#333', lineWidth: 1.5},
          border: {display: true, color: '#333', width: 1.5},
          ticks: {font: {family: FONT, size: 18}, color: '#111', padding: 3, maxRotation: 0, autoSkip: false,
                  callback: v => String(v)},
          title: {display: true, text: 'Start Year', color: '#000',
                  font: {family: FONT, size: 22, weight: 'bold'}, padding: {top: 0, bottom: 2}}
        },
        y: {
          min: yMin, max: yMax,
          afterBuildTicks: s => { s.ticks = yTicks.map(v => ({value: v})); },
          afterFit: s => { s.width = 70; s.paddingTop = 0; s.paddingBottom = 0; },
          grid: {drawOnChartArea: false, drawTicks: true, tickLength: 7, color: '#333', lineWidth: 1.2},
          border: {display: true, color: '#333', width: 1.5},
          ticks: {font: {family: FONT, size: 18}, color: '#111', padding: 6},
          title: {display: true, text: 'MK Z-Score', color: '#000',
                  font: {family: FONT, size: 20, weight: 'bold'}, padding: {top: 10, bottom: 0}}
        }
      }
    },
    plugins: [panelPlugin]
  });
});
</script>
</body>
</html>
